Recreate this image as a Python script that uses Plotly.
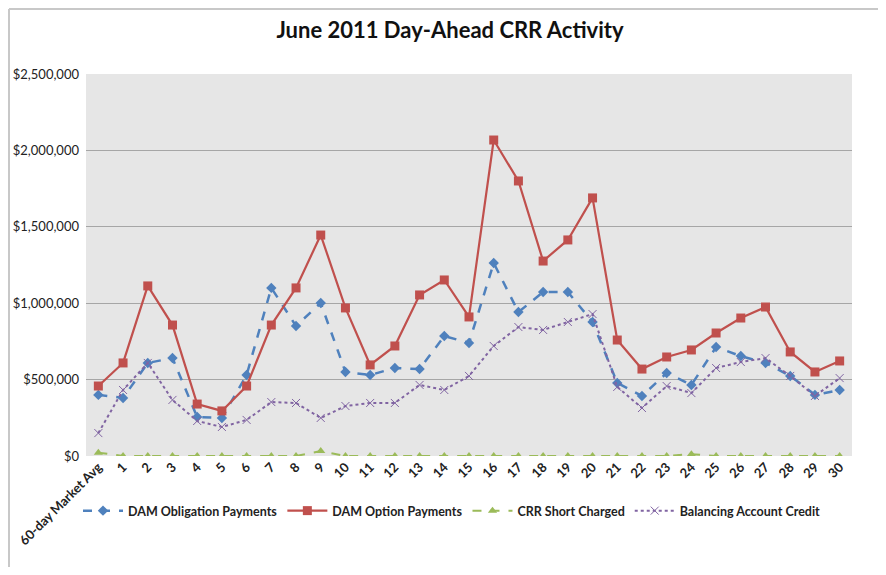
import plotly.graph_objects as go

categories = ["60-day Market Avg"] + [str(i) for i in range(1, 31)]

obligation = [400000, 380000, 609000, 641000, 255000, 249000, 530000, 1100000, 851000, 1001000,
              550000, 530000, 576000, 569000, 785000, 740000, 1263000, 942000, 1073000, 1073000,
              877000, 478000, 393000, 543000, 465000, 713000, 654000, 609000, 524000, 400000, 432000]

option = [458000, 609000, 1113000, 857000, 340000, 295000, 458000, 857000, 1100000, 1446000,
          969000, 596000, 720000, 1054000, 1152000, 910000, 2068000, 1800000, 1276000, 1414000,
          1689000, 759000, 569000, 648000, 694000, 805000, 903000, 975000, 681000, 550000, 622000]

short_charged = [22000, 0, 0, 0, 0, 0, 0, 0, 0, 32000,
                 0, 0, 0, 0, 0, 0, 0, 0, 0, 0,
                 0, 0, 0, 0, 12000, 0, 0, 0, 0, 0, 0]

balancing = [150000, 432000, 609000, 367000, 229000, 190000, 236000, 353000, 347000, 249000,
             327000, 347000, 347000, 465000, 432000, 524000, 720000, 844000, 825000, 877000,
             929000, 452000, 314000, 458000, 412000, 576000, 615000, 641000, 524000, 393000, 510000]

y_ticks = [0, 500000, 1000000, 1500000, 2000000, 2500000]
y_tick_labels = ["$0", "$500,000", "$1,000,000", "$1,500,000", "$2,000,000", "$2,500,000"]

font = "Lato, 'Open Sans', sans-serif"

# figure is placed 8px from the page edge by the default body margin
W, H = 870, 559

fig = go.Figure()
fig.add_trace(go.Scatter(x=categories, y=obligation, name="DAM Obligation Payments",
                         mode="lines+markers",
                         line=dict(color="#4f81bd", width=2.5, dash="dash"),
                         marker=dict(symbol="diamond", size=8, color="#4f81bd")))
fig.add_trace(go.Scatter(x=categories, y=option, name="DAM Option Payments",
                         mode="lines+markers",
                         line=dict(color="#c0504d", width=2.2),
                         marker=dict(symbol="square", size=9, color="#c0504d")))
fig.add_trace(go.Scatter(x=categories, y=short_charged, name="CRR Short Charged",
                         mode="lines+markers",
                         line=dict(color="#9bbb59", width=2, dash="dash"),
                         marker=dict(symbol="triangle-up", size=8, color="#9bbb59")))
fig.add_trace(go.Scatter(x=categories, y=balancing, name="Balancing Account Credit",
                         mode="lines+markers",
                         line=dict(color="#8064a2", width=2, dash="dot"),
                         marker=dict(symbol="x-thin", size=8,
                                     line=dict(color="#8064a2", width=1))))

fig.update_layout(
    width=W, height=H,
    margin=dict(l=78, r=26, t=66, b=111),
    paper_bgcolor="white",
    plot_bgcolor="#e6e6e6",
    font=dict(family=font, color="#222222", size=11),
    title=dict(text="<b>June 2011 Day-Ahead CRR Activity</b>",
               x=442 / W, xanchor="center", xref="container",
               y=1 - 22 / H, yanchor="middle", yref="container",
               font=dict(family=font, size=22, color="#111111")),
    showlegend=True,
    legend=dict(orientation="h", x=444 / W, xanchor="center", xref="container",
                y=1 - 503 / H, yanchor="middle", yref="container",
                font=dict(family=font, size=12.5, color="#222222", weight="bold"),
                bgcolor="rgba(0,0,0,0)", itemwidth=40),
    xaxis=dict(type="category", tickangle=-45, showgrid=False, zeroline=False,
               showline=False, ticks="", automargin=False,
               tickfont=dict(size=13, color="#222222", weight="bold"),
               range=[-0.5, 30.5]),
    yaxis=dict(range=[0, 2500000], tickvals=y_ticks, ticktext=y_tick_labels,
               showgrid=True, gridcolor="#a6a6a6", gridwidth=1, zeroline=False,
               showline=False, ticks="", automargin=False, ticklabelstandoff=6,
               tickfont=dict(size=13, color="#222222")),
    shapes=[
        dict(type="line", xref="paper", yref="paper",
             x0=-77 / 766, x1=1 + 26 / 766, y0=1 + 65 / 382, y1=1 + 65 / 382,
             line=dict(color="#c8c8c8", width=2)),
        dict(type="line", xref="paper", yref="paper",
             x0=-77 / 766, x1=-77 / 766, y0=1 + 65 / 382, y1=-111 / 382,
             line=dict(color="#c8c8c8", width=2)),
    ],
)

fig.write_html("out.html")
